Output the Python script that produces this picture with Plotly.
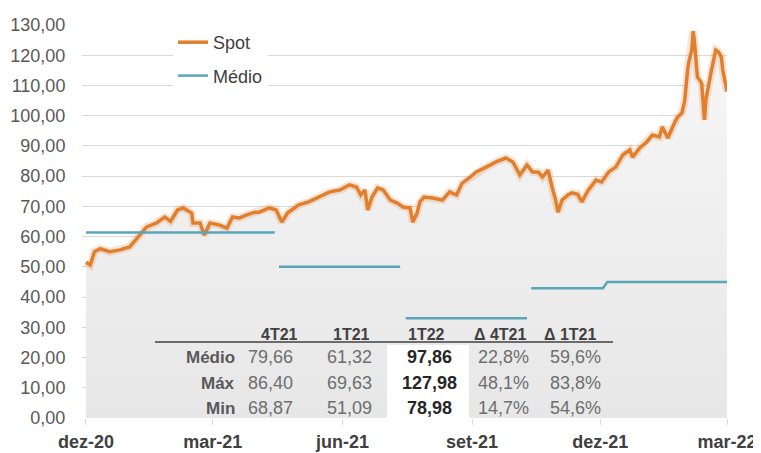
import plotly.graph_objects as go

# ---------------- data ----------------
spot_dates = [
    "2020-12-01", "2020-12-04", "2020-12-07", "2020-12-11", "2020-12-18", "2020-12-25",
    "2021-01-01", "2021-01-07", "2021-01-13", "2021-01-20", "2021-01-26", "2021-01-30",
    "2021-02-04", "2021-02-08", "2021-02-11", "2021-02-14", "2021-02-15", "2021-02-20",
    "2021-02-23", "2021-02-27", "2021-03-06", "2021-03-11", "2021-03-15", "2021-03-20",
    "2021-03-25", "2021-03-31", "2021-04-03", "2021-04-10", "2021-04-15", "2021-04-19",
    "2021-04-23", "2021-05-01", "2021-05-08", "2021-05-16", "2021-05-23", "2021-05-30",
    "2021-06-06", "2021-06-11", "2021-06-14", "2021-06-17", "2021-06-19", "2021-06-22",
    "2021-06-26", "2021-06-30", "2021-07-05", "2021-07-10", "2021-07-14", "2021-07-19",
    "2021-07-21", "2021-07-24", "2021-07-26", "2021-07-29", "2021-08-04", "2021-08-11",
    "2021-08-16", "2021-08-21", "2021-08-25", "2021-08-30", "2021-09-04", "2021-09-11",
    "2021-09-18", "2021-09-25", "2021-09-30", "2021-10-05", "2021-10-10", "2021-10-14",
    "2021-10-18", "2021-10-21", "2021-10-25", "2021-10-28", "2021-10-30", "2021-11-01",
    "2021-11-04", "2021-11-08", "2021-11-11", "2021-11-15", "2021-11-18", "2021-11-22",
    "2021-11-28", "2021-12-02", "2021-12-07", "2021-12-12", "2021-12-17", "2021-12-22",
    "2021-12-24", "2021-12-29", "2022-01-03", "2022-01-07", "2022-01-12", "2022-01-14",
    "2022-01-18", "2022-01-23", "2022-01-25", "2022-01-28", "2022-01-30", "2022-02-01",
    "2022-02-02", "2022-02-04", "2022-02-05", "2022-02-06", "2022-02-08", "2022-02-11",
    "2022-02-13", "2022-02-14", "2022-02-16", "2022-02-18", "2022-02-21", "2022-02-23",
    "2022-02-25", "2022-02-26", "2022-03-01",
]
spot_values = [
    51.5, 50.6, 55.0, 56.0, 55.0, 55.6,
    56.6, 60.0, 63.2, 64.5, 66.5, 65.0,
    68.8, 69.5, 68.8, 67.8, 64.5, 64.5,
    60.5, 64.5, 63.8, 62.8, 66.5, 66.2,
    67.2, 68.1, 68.1, 69.5, 68.8, 64.8,
    67.8, 70.5, 71.5, 73.1, 74.8, 75.4,
    77.1, 76.4, 73.8, 75.4, 68.8, 73.1,
    76.1, 75.4, 72.1, 71.1, 69.8, 69.5,
    64.8, 67.8, 71.5, 73.1, 72.8, 72.1,
    74.8, 73.8, 77.7, 79.4, 81.4, 83.0,
    84.7, 86.0, 84.7, 80.4, 83.7, 81.4,
    81.4, 79.7, 82.0, 76.1, 72.8, 68.1,
    72.1, 73.8, 74.5, 74.0, 71.5, 75.0,
    78.7, 78.1, 81.4, 83.0, 87.0, 88.7,
    86.3, 89.3, 91.3, 93.6, 93.0, 96.3,
    92.6, 97.9, 99.6, 100.9, 105.0, 115.1,
    118.0, 121.7, 127.98, 124.0, 112.8, 110.8,
    98.6, 105.2, 109.5, 115.1, 121.7, 121.1,
    119.4, 115.1, 108.0,
]

medio_dates = [
    "2020-12-01", "2021-04-14", "2021-04-15",
    "2021-04-17", "2021-07-12", "2021-07-14",
    "2021-07-16", "2021-10-10", "2021-10-11",
    "2021-10-13", "2021-12-03", "2021-12-06", "2022-03-01",
]
medio_values = [
    61.32, 61.32, None,
    50.0, 50.0, None,
    33.0, 33.0, None,
    42.9, 42.9, 45.0, 45.0,
]

tick_dates = ["2020-12-01", "2021-03-01", "2021-06-01", "2021-09-01", "2021-12-01", "2022-03-01"]
tick_labels = ["dez-20", "mar-21", "jun-21", "set-21", "dez-21", "mar-22"]

table_headers = ["4T21", "1T21", "1T22", "Δ 4T21", "Δ 1T21"]
table_rows = ["Médio", "Máx", "Min"]
val_4t21 = [79.66, 86.40, 68.87]
val_1t21 = [61.32, 69.63, 51.09]
val_1t22 = [97.86, 127.98, 78.98]
var_4t21 = [22.8, 48.1, 14.7]
var_1t21 = [59.6, 83.8, 54.6]

# ---------------- layout geometry (pixels) ----------------
# the page body has an 8px margin, so the figure is offset by (8, 8)
OFF = 8
W, H = 761 - OFF, 453 - OFF
L, R, T, B = 82 - OFF, 34, 25 - OFF, 35
PW, PH = W - L - R, H - T - B


def px(x):
    """window x pixel -> paper x"""
    return (x - OFF - L) / PW


def py(y):
    """window y pixel -> paper y"""
    return (OFF + H - B - y) / PH


FONT = "Liberation Sans, Arial, sans-serif"
ORANGE = "#E27F2E"
TEAL = "#58A6B8"

fig = go.Figure()

# light area under the spot line
fig.add_trace(go.Scatter(
    x=spot_dates, y=spot_values, mode="lines", line=dict(width=0, color="rgba(0,0,0,0)"),
    fill="tozeroy",
    fillgradient=dict(type="vertical", colorscale=[[0, "#E7E7E7"], [1, "#F7F7F7"]]),
    showlegend=False, hoverinfo="skip",
))
# soft shadow of the spot line
fig.add_trace(go.Scatter(
    x=spot_dates, y=spot_values, mode="lines",
    line=dict(width=8, color="rgba(226,127,46,0.20)"),
    showlegend=False, hoverinfo="skip",
))
fig.add_trace(go.Scatter(
    x=spot_dates, y=spot_values, mode="lines", name="Spot",
    line=dict(width=3.5, color=ORANGE), legendgroup="a",
))
fig.add_trace(go.Scatter(
    x=medio_dates, y=medio_values, mode="lines", name="Médio",
    line=dict(width=2.5, color=TEAL), connectgaps=False, legendgroup="b",
))

shapes = [
    # white column behind 1T22
    dict(type="rect", xref="paper", yref="paper", x0=px(387), x1=px(469), y0=py(418), y1=py(345),
         fillcolor="white", line=dict(width=0), layer="above"),
    # header rule
    dict(type="line", xref="paper", yref="paper", x0=px(155), x1=px(613), y0=py(342), y1=py(342),
         line=dict(color="#404040", width=1.5), layer="above"),
]

annotations = []
header_cx = [279, 351, 427, 500, 570]
value_cx = [270, 349, 429, 503, 575]
row_y = [357, 383, 408]
for h, cx in zip(table_headers, header_cx):
    annotations.append(dict(x=px(cx), y=py(334), xref="paper", yref="paper", text=h, showarrow=False,
                            xanchor="center", yanchor="middle",
                            font=dict(family=FONT, size=16, color="#404040", weight="bold")))


def num(v):
    return f"{v:.2f}".replace(".", ",")


def pct(v):
    return f"{v:.1f}%".replace(".", ",")


columns = [
    [num(v) for v in val_4t21],
    [num(v) for v in val_1t21],
    [num(v) for v in val_1t22],
    [pct(v) for v in var_4t21],
    [pct(v) for v in var_1t21],
]
for i, (lab, y) in enumerate(zip(table_rows, row_y)):
    annotations.append(dict(x=px(237), y=py(y), xref="paper", yref="paper", text=lab, showarrow=False,
                            xanchor="right", yanchor="middle",
                            font=dict(family=FONT, size=17, color="#595959", weight="bold")))
    for j, (col, cx) in enumerate(zip(columns, value_cx)):
        if j == 2:
            f = dict(family=FONT, size=18, color="#262626", weight="bold")
        else:
            f = dict(family=FONT, size=18, color="#6E6E6E")
        annotations.append(dict(x=px(cx), y=py(y), xref="paper", yref="paper", text=col[i],
                                showarrow=False, xanchor="center", yanchor="middle", font=f))

fig.update_layout(
    width=W, height=H,
    margin=dict(l=L, r=R, t=T, b=B, pad=0, autoexpand=False),
    paper_bgcolor="white", plot_bgcolor="white",
    separators=",.",
    font=dict(family=FONT, color="#595959"),
    showlegend=True,
    legend=dict(
        x=px(173), y=py(24), xref="paper", yref="paper", xanchor="left", yanchor="top",
        bgcolor="white", borderwidth=0, traceorder="grouped", tracegroupgap=7,
        font=dict(family=FONT, size=18, color="#404040"),
        itemwidth=30,
    ),
    xaxis=dict(
        type="date", automargin=False,
        range=["2020-11-28 04:00", "2022-03-01"],
        tickvals=tick_dates, ticktext=tick_labels,
        tickfont=dict(family=FONT, size=18, color="#404040", weight="bold"),
        ticks="outside", ticklen=6, tickcolor="#D9D9D9", ticklabelstandoff=1,
        showgrid=False, zeroline=False, showline=False,
    ),
    yaxis=dict(
        automargin=False,
        range=[0, 130], dtick=10, tick0=0, tickformat=".2f",
        tickfont=dict(family=FONT, size=18, color="#595959"),
        ticks="outside", ticklen=12, tickcolor="rgba(0,0,0,0)",
        showgrid=True, gridcolor="#D9D9D9", gridwidth=1,
        zeroline=False, showline=False,
    ),
    shapes=shapes,
    annotations=annotations,
)

fig.write_html("out.html")
